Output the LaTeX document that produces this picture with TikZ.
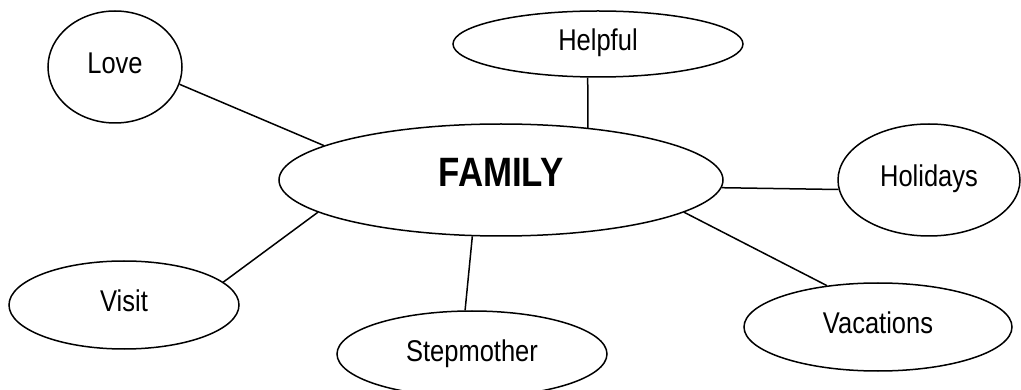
\documentclass[tikz,border=0pt]{standalone}
\usepackage{fontspec}
\setmainfont{Liberation Sans}[FakeStretch=0.85]
\usetikzlibrary{shapes.geometric}
\begin{document}
\begin{tikzpicture}[x=1pt,y=-1pt,
  bubble/.style={ellipse, draw, line width=1.5pt, inner sep=0pt,
    font=\fontsize{30}{36}\selectfont, text height=22pt, text depth=8pt},
  hub/.style={bubble, font=\fontsize{41}{48}\selectfont\bfseries,
    text height=30pt, text depth=16pt},
  link/.style={line width=1.5pt}]
\useasboundingbox (0,0) rectangle (1021,390);

% central idea
\node[hub, minimum width=444pt, minimum height=112pt] (fam) at (501,180) {FAMILY};

% related words
\node[bubble, minimum width=134pt, minimum height=112pt] (love)  at (115,67)  {Love};
\node[bubble, minimum width=290pt, minimum height=66pt]  (help)  at (598,44)  {Helpful};
\node[bubble, minimum width=182pt, minimum height=112pt] (holi)  at (929,180) {Holidays};
\node[bubble, minimum width=268pt, minimum height=88pt]  (vac)   at (878,327) {Vacations};
\node[bubble, minimum width=270pt, minimum height=86pt]  (stepm) at (472,354) {Stepmother};
\node[bubble, minimum width=230pt, minimum height=88pt]  (visit) at (124,305) {Visit};

% spokes
\draw[link] (love.-15.8)  -- (fam.169.8);
\draw[link] (help.253.6)  -- (fam.31.1);
\draw[link] (holi.186.9)  -- (fam.-2.8);
\draw[link] (vac.141.8)   -- (fam.-10.3);
\draw[link] (stepm.99)    -- (fam.243.8);
\draw[link] (visit.13.1)  -- (fam.190.8);
\end{tikzpicture}
\end{document}
